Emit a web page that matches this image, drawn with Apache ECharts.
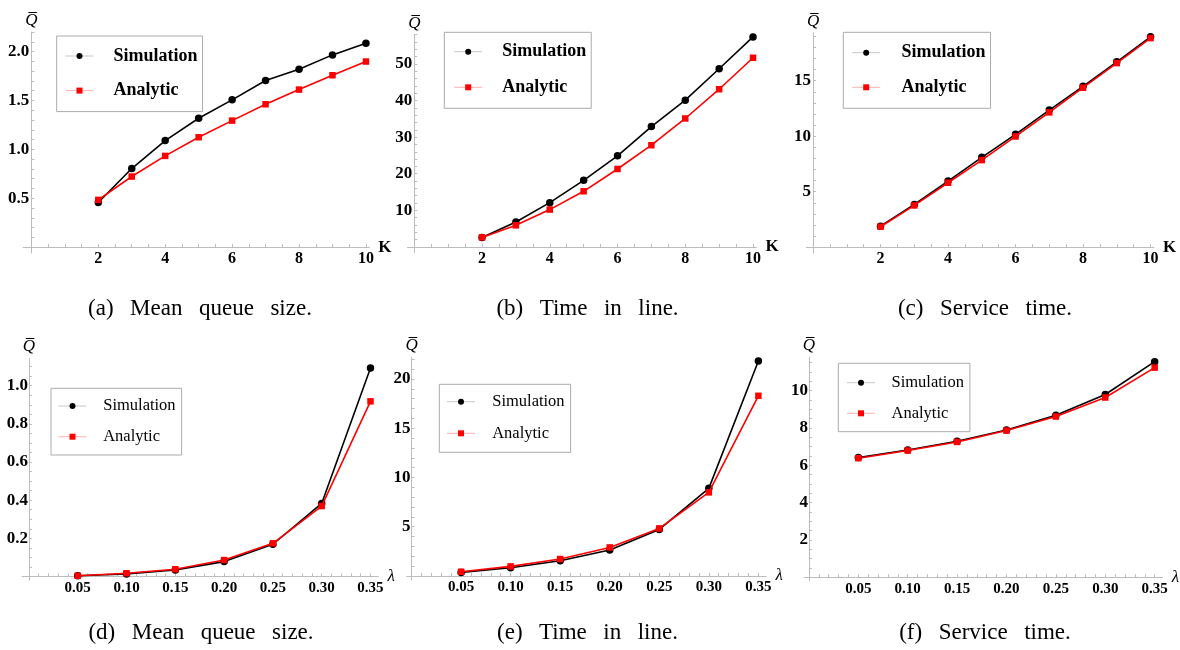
<!DOCTYPE html>
<html>
<head>
<meta charset="utf-8">
<script src="https://cdn.jsdelivr.net/npm/echarts@6/dist/echarts.min.js"></script>
<style>
  html, body { margin: 0; padding: 0; background: #fff; }
  #chart { width: 1180px; height: 650px; }
</style>
</head>
<body>
<div id="chart"></div>
<script>
// ---- Data: sweep over K (panels a–c) ----
const kValues = [2, 3, 4, 5, 6, 7, 8, 9, 10];
const queueSizeSimK = [0.456, 0.804, 1.09, 1.318, 1.506, 1.704, 1.82, 1.966, 2.085];
const queueSizeAnaK = [0.483, 0.722, 0.933, 1.124, 1.294, 1.461, 1.611, 1.758, 1.898];
const timeInLineSimK = [2.6, 6.8, 12.1, 18.2, 24.9, 32.9, 40.1, 48.7, 57.4];
const timeInLineAnaK = [2.6, 5.9, 10.2, 15.2, 21.3, 27.8, 35.1, 43.1, 51.7];
const serviceSimK = [1.9, 3.86, 5.96, 8.1, 10.17, 12.36, 14.5, 16.7, 18.96];
const serviceAnaK = [1.85, 3.77, 5.81, 7.85, 9.98, 12.15, 14.37, 16.59, 18.84];

// ---- Data: sweep over lambda (panels d–f) ----
const lambdaValues = [0.05, 0.10, 0.15, 0.20, 0.25, 0.30, 0.35];
const queueSizeSimL = [0.004, 0.013, 0.034, 0.078, 0.169, 0.383, 1.093];
const queueSizeAnaL = [0.004, 0.017, 0.038, 0.086, 0.174, 0.369, 0.918];
const timeInLineSimL = [0.36, 0.84, 1.55, 2.63, 4.73, 8.9, 21.83];
const timeInLineAnaL = [0.43, 0.97, 1.72, 2.9, 4.83, 8.49, 18.3];
const serviceSimL = [6.41, 6.82, 7.29, 7.89, 8.68, 9.79, 11.55];
const serviceAnaL = [6.38, 6.79, 7.25, 7.86, 8.61, 9.63, 11.23];

// ---- Tick labels ----
const kTickLabels = [2, 4, 6, 8, 10];
const lambdaTickLabels = [0.05, 0.10, 0.15, 0.20, 0.25, 0.30, 0.35];
const queueSizeKTicks = [0.5, 1.0, 1.5, 2.0];
const timeInLineKTicks = [10, 20, 30, 40, 50];
const serviceKTicks = [5, 10, 15];
const queueSizeLTicks = [0.2, 0.4, 0.6, 0.8, 1.0];
const timeInLineLTicks = [5, 10, 15, 20];
const serviceLTicks = [2, 4, 6, 8, 10];

const seriesNames = ['Simulation', 'Analytic'];
const captionWords = [
  ['(a)', 'Mean', 'queue', 'size.'],
  ['(b)', 'Time', 'in', 'line.'],
  ['(c)', 'Service', 'time.'],
  ['(d)', 'Mean', 'queue', 'size.'],
  ['(e)', 'Time', 'in', 'line.'],
  ['(f)', 'Service', 'time.']
];

// ---- Layout and styling of the six panels ----
const SERIF = 'Liberation Serif';
const AXIS_GRAY = '#bcbcbc';

const panels = [
  { grid: { left: 23, top: 32, width: 346.3, height: 221 }, xRange: [-0.25, 10.1], yRange: [-0.06, 2.2],
    xs: kValues, sim: queueSizeSimK, ana: queueSizeAnaK, xLabels: kTickLabels, xMinor: 0.5, xDec: 0,
    yLabels: queueSizeKTicks, yMinor: 0.1, yDec: 1, xName: 'K', top: true,
    legend: { left: 56.7, top: 36, padding: [10, 5, 11, 8.3], gap: 14.6, textPad: 15 },
    caption: { x: 200, y: 309 } },
  { grid: { left: 407.5, top: 34.7, width: 348.9, height: 217.7 }, xRange: [-0.2, 10.1], yRange: [-1.5, 58],
    xs: kValues, sim: timeInLineSimK, ana: timeInLineAnaK, xLabels: kTickLabels, xMinor: 0.5, xDec: 0,
    yLabels: timeInLineKTicks, yMinor: 2, yDec: 0, xName: 'K', top: true,
    legend: { left: 444.3, top: 32.3, padding: [9.4, 5, 11, 9.4], gap: 15.6, textPad: 15 },
    caption: { x: 587.5, y: 309 } },
  { grid: { left: 806.3, top: 33, width: 347.6, height: 219.8 }, xRange: [-0.2, 10.1], yRange: [-0.5, 19.3],
    xs: kValues, sim: serviceSimK, ana: serviceAnaK, xLabels: kTickLabels, xMinor: 0.5, xDec: 0,
    yLabels: serviceKTicks, yMinor: 1, yDec: 0, xName: 'K', top: true,
    legend: { left: 843.3, top: 32.3, padding: [10.4, 5, 11, 8.4], gap: 14.6, textPad: 16.3 },
    caption: { x: 985, y: 309 } },
  { grid: { left: 22.1, top: 358.4, width: 356.2, height: 221.9 }, xRange: [-0.007, 0.358], yRange: [-0.02, 1.143],
    xs: lambdaValues, sim: queueSizeSimL, ana: queueSizeAnaL, xLabels: lambdaTickLabels, xMinor: 0.01, xDec: 2,
    yLabels: queueSizeLTicks, yMinor: 0.05, yDec: 1, xName: 'λ', top: false,
    legend: { left: 51, top: 388.3, padding: [8.7, 6, 9.3, 7], gap: 12.7, textPad: 11.7 },
    caption: { x: 201, y: 633 } },
  { grid: { left: 406.6, top: 357.4, width: 359.7, height: 222.5 }, xRange: [-0.005, 0.358], yRange: [-0.4, 22.2],
    xs: lambdaValues, sim: timeInLineSimL, ana: timeInLineAnaL, xLabels: lambdaTickLabels, xMinor: 0.01, xDec: 2,
    yLabels: timeInLineLTicks, yMinor: 1, yDec: 0, xName: 'λ', top: false,
    legend: { left: 439.3, top: 384.3, padding: [8.4, 6, 10, 7.2], gap: 13.6, textPad: 12.2 },
    caption: { x: 587.5, y: 633 } },
  { grid: { left: 804, top: 357, width: 360.8, height: 224 }, xRange: [-0.005, 0.358], yRange: [-0.2, 11.8],
    xs: lambdaValues, sim: serviceSimL, ana: serviceAnaL, xLabels: lambdaTickLabels, xMinor: 0.01, xDec: 2,
    yLabels: serviceLTicks, yMinor: 0.5, yDec: 0, xName: 'λ', top: false,
    legend: { left: 838.3, top: 363.3, padding: [10.4, 6, 9.4, 8.2], gap: 12.6, textPad: 11.5 },
    caption: { x: 985, y: 633 } }
];

// Tick positions between 0 and the axis end at a fixed step
function stepTicks(step, max) {
  const out = [];
  for (let i = 1; i * step <= max + 1e-9; i++) out.push(Math.round(i * step * 1e6) / 1e6);
  return out;
}

const grids = [], xAxes = [], yAxes = [], series = [], legends = [], graphics = [];

panels.forEach((p, i) => {
  grids.push(Object.assign({ containLabel: false }, p.grid));

  // The axes cross at the origin, inset from the grid edges; labels are
  // measured from the grid edge, so shift them back onto the axis lines.
  const insetLeft = p.grid.width * (-p.xRange[0]) / (p.xRange[1] - p.xRange[0]);
  const insetBottom = p.grid.height * (-p.yRange[0]) / (p.yRange[1] - p.yRange[0]);
  const labelFont = { fontFamily: SERIF, fontWeight: 'bold', color: '#000' };

  xAxes.push({
    type: 'value', gridIndex: i, min: p.xRange[0], max: p.xRange[1],
    position: 'bottom',
    axisLine: { show: true, onZero: true, lineStyle: { color: AXIS_GRAY, width: 1 } },
    axisTick: { show: true, inside: true, length: 3, lineStyle: { color: AXIS_GRAY },
      customValues: stepTicks(p.xMinor, p.xRange[1]) },
    axisLabel: Object.assign({ show: true, fontSize: p.top ? 16 : 15, margin: 4 - insetBottom,
      customValues: p.xLabels, formatter: v => Number(v).toFixed(p.xDec) }, labelFont),
    splitLine: { show: false },
    name: p.xName, nameLocation: 'end', nameGap: p.top ? 9 : 4,
    nameTextStyle: p.top
      ? { fontFamily: SERIF, fontWeight: 'bold', fontSize: 17, color: '#000', padding: [0, 0, 3, 0] }
      : { fontFamily: SERIF, fontStyle: 'italic', fontSize: 17, color: '#000', padding: [0, 0, 7, 0] }
  });

  yAxes.push({
    type: 'value', gridIndex: i, min: p.yRange[0], max: p.yRange[1],
    position: 'left',
    axisLine: { show: true, onZero: true, lineStyle: { color: AXIS_GRAY, width: 1 } },
    axisTick: { show: true, inside: true, length: 3, lineStyle: { color: AXIS_GRAY },
      customValues: stepTicks(p.yMinor, p.yRange[1]) },
    axisLabel: Object.assign({ show: true, fontSize: 17, margin: (p.top ? 2 : 1) - insetLeft,
      customValues: p.yLabels, formatter: v => Number(v).toFixed(p.yDec) }, labelFont),
    splitLine: { show: false },
    name: 'Q\u0305', nameLocation: 'end', nameGap: 3,
    nameTextStyle: { fontFamily: SERIF, fontStyle: 'italic', fontSize: 17, color: '#000' }
  });

  series.push({
    name: seriesNames[0], type: 'line', xAxisIndex: i, yAxisIndex: i,
    data: p.xs.map((x, j) => [x, p.sim[j]]),
    symbol: 'circle', symbolSize: 7.5, z: 3,
    lineStyle: { color: '#000', width: 1.6 }, itemStyle: { color: '#000' },
    animation: false
  });
  series.push({
    name: seriesNames[1], type: 'line', xAxisIndex: i, yAxisIndex: i,
    data: p.xs.map((x, j) => [x, p.ana[j]]),
    symbol: 'rect', symbolSize: 6.5, z: 4,
    lineStyle: { color: '#ff0000', width: 1.6 }, itemStyle: { color: '#ff0000' },
    animation: false
  });

  const L = p.legend;
  legends.push({
    left: L.left, top: L.top, orient: 'vertical', padding: L.padding,
    itemGap: L.gap, itemWidth: 28, itemHeight: 7.5,
    backgroundColor: '#fff', borderColor: '#ababab', borderWidth: 1, borderRadius: 0,
    selectedMode: false,
    textStyle: {
      fontFamily: SERIF, color: '#000',
      fontWeight: p.top ? 'bold' : 'normal',
      fontSize: p.top ? 18 : 16.5,
      lineHeight: p.top ? 20 : 18,
      padding: [0, 0, 0, L.textPad]
    },
    data: [
      { name: seriesNames[0], lineStyle: { color: '#c8c8c8', width: 1 }, itemStyle: { color: '#000' } },
      { name: seriesNames[1], lineStyle: { color: '#ffb0b0', width: 1 }, itemStyle: { color: '#ff0000' } }
    ]
  });

  // Sub-figure caption, with wide inter-word spacing
  const words = captionWords[i];
  graphics.push({
    type: 'text', x: p.caption.x, y: p.caption.y,
    style: {
      text: words.join('{s| }'),
      font: '23px "Liberation Serif"', fill: '#000',
      align: 'center', verticalAlign: 'middle',
      rich: { s: { width: 16.5, fontSize: 23, fontFamily: SERIF } }
    }
  });
});

const chart = echarts.init(document.getElementById('chart'), null, { renderer: 'canvas' });
chart.setOption({
  backgroundColor: '#fff',
  animation: false,
  grid: grids,
  xAxis: xAxes,
  yAxis: yAxes,
  legend: legends,
  series: series,
  graphic: graphics
});
</script>
</body>
</html>
